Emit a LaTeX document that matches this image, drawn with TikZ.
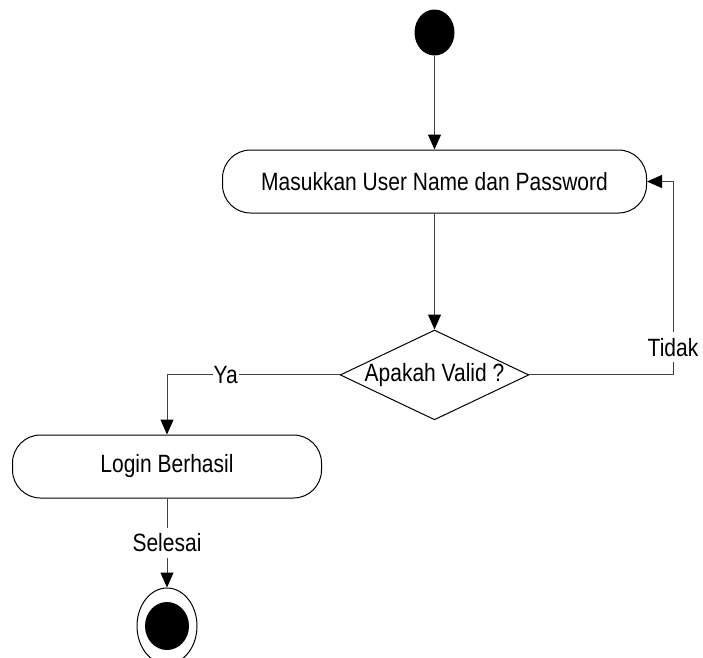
\documentclass[tikz,border=0pt]{standalone}
\usepackage{fontspec}
\setmainfont{Liberation Sans}[FakeStretch=0.84]
\usetikzlibrary{arrows.meta}
\usetikzlibrary{shapes.geometric, positioning}

\begin{document}
\begin{tikzpicture}[x=1pt, y=1pt, >={Triangle[length=15pt,width=13pt,color=black]}, line width=1pt, font=\fontsize{25}{29}\selectfont]
			\tikzstyle{activity}=[draw, rounded corners=28pt, minimum height=63pt, inner sep=0pt]
			\tikzstyle{decision}=[draw, diamond, shape aspect=2.1, minimum width=188pt, minimum height=89pt, inner sep=0pt]
			\tikzstyle{startdot}=[ellipse, fill=black, minimum width=40pt, minimum height=46pt, inner sep=0pt]
			\tikzstyle{enddot}=[ellipse, draw, minimum width=60pt, minimum height=76pt, inner sep=0pt]
			\tikzstyle{endfill}=[ellipse, fill=black, minimum width=44pt, minimum height=48pt, inner sep=0pt]
			\tikzstyle{flow}=[->, draw=black!75]
			\tikzstyle{linelabel}=[fill=white, inner xsep=1pt, inner ysep=6pt]
			
			\useasboundingbox (0,0) rectangle (703,-657);
			
			\node[startdot] (start) at (434.5,-32.5) {};
			\node[activity, minimum width=424pt] (input) [below=93.5pt of start] {Masukkan User Name dan Password};
			\node[decision] (valid) [below=116pt of input] {Apakah Valid ?};
			\node[activity, minimum width=309pt] (login) at (167,-466.5) {Login Berhasil};
			\node[enddot] (finish) [below=89pt of login] {};
			\node[endfill] at (finish) {};
			
			\path[flow]
			(start) edge (input)
			(input) edge (valid)
			(login) edge node[linelabel, pos=0.5] {Selesai} (finish);
			\draw[flow] (valid) -| node[linelabel, pos=0.33] {Ya} (login);
			\draw[flow] (valid.east) -| node[linelabel, pos=0.572] {Tidak} ([xshift=26pt]input.east) -- (input.east);
		\end{tikzpicture}
\end{document}
